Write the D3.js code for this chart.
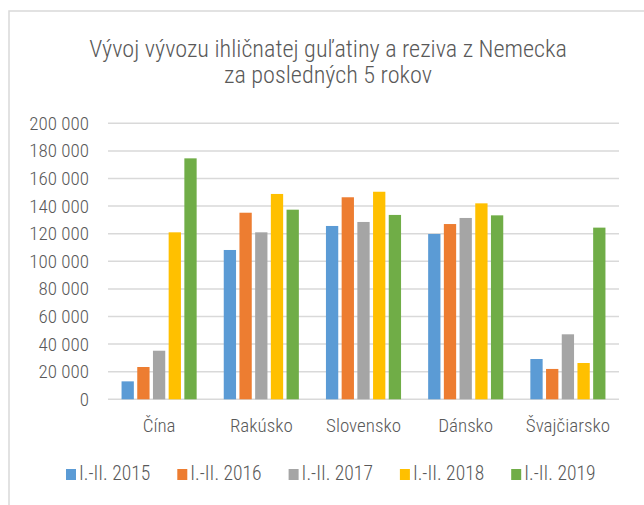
<!DOCTYPE html>
<html><head><meta charset="utf-8"><script src="https://cdn.jsdelivr.net/npm/d3@7"></script>
<style>
  body { margin: 0; background: #fff; }
  text { font-family: 'Roboto Condensed', 'Liberation Sans', sans-serif; font-weight: 300; fill: #595959; }
</style></head>
<body>
<div id="chart"></div>
<script>

// data
var categories = ['Čína', 'Rakúsko', 'Slovensko', 'Dánsko', 'Švajčiarsko'];
var seriesNames = ['I.-II. 2015', 'I.-II. 2016', 'I.-II. 2017', 'I.-II. 2018', 'I.-II. 2019'];
var seriesColors = ['#5B9BD5', '#ED7D31', '#A5A5A5', '#FFC000', '#70AD47'];
var values2015 = [13000, 108200, 125600, 119800, 29200];
var values2016 = [23400, 135200, 146400, 127000, 22000];
var values2017 = [35200, 121000, 128500, 131400, 47100];
var values2018 = [121000, 148800, 150400, 142000, 26300];
var values2019 = [174600, 137400, 133600, 133300, 124400];
var yTicks = [0, 20000, 40000, 60000, 80000, 100000, 120000, 140000, 160000, 180000, 200000];
var titleLines = ['Vývoj vývozu ihličnatej guľatiny a reziva z Nemecka', 'za posledných 5 rokov'];

var allSeries = [values2015, values2016, values2017, values2018, values2019];

var width = 644, height = 505;
var plot = { left: 108, right: 619, top: 123.3, bottom: 399.3 };

var svg = d3.select('#chart')
			.append('svg')
				.attr('width', width)
				.attr('height', height);

// chart frame (right and bottom edges fall outside the picture)
svg.append('rect')
		.attr('x', 9)
		.attr('y', 11)
		.attr('width', 700)
		.attr('height', 600)
		.style('fill', 'none')
		.style('stroke', '#d9d9d9')
		.style('stroke-width', 1.5);

// title
svg.append('text')
		.attr('text-anchor', 'middle')
		.style('font-size', '24.2px')
	.selectAll('tspan')
	.data(titleLines)
	.enter().append('tspan')
		.attr('x', 328)
		.attr('y', function(d, i) { return 57 + i * 26; })
		.text(function(d) { return d; });

var x0 = d3.scaleBand()
			.domain(categories)
			.range([plot.left, plot.right])
			.padding(0);

var x1 = d3.scaleBand()
			.domain(seriesNames)
			.range([0, x0.bandwidth()])
			.paddingInner(0.217)
			.paddingOuter(0.863);

var y = d3.scaleLinear()
			.domain([0, 200000])
			.range([plot.bottom, plot.top]);

var fmt = function(d) { return d3.format(',')(d).replace(/,/g, ' '); };

// gridlines
svg.append('g')
	.selectAll('line')
	.data(yTicks)
	.enter().append('line')
		.attr('x1', plot.left)
		.attr('x2', plot.right)
		.attr('y1', function(d) { return y(d); })
		.attr('y2', function(d) { return y(d); })
		.style('stroke', '#d9d9d9')
		.style('stroke-width', 1.5);

// y axis labels
var yAxis = d3.axisLeft(y)
				.tickValues(yTicks)
				.tickFormat(fmt)
				.tickSize(0)
				.tickPadding(0);

svg.append('g')
		.attr('transform', 'translate(89,0)')
		.call(yAxis)
		.call(function(g) { g.select('.domain').remove(); })
		.selectAll('text')
			.attr('font-family', null)
			.attr('fill', null)
			.style('font-size', '19px');

// bars
var groups = svg.append('g')
	.selectAll('g')
	.data(categories)
	.enter().append('g')
		.attr('transform', function(d) { return 'translate(' + x0(d) + ',0)'; });

groups.selectAll('rect')
	.data(function(c, ci) { return allSeries.map(function(s, si) { return { name: seriesNames[si], value: s[ci], color: seriesColors[si] }; }); })
	.enter().append('rect')
		.attr('x', function(d) { return x1(d.name); })
		.attr('y', function(d) { return y(d.value); })
		.attr('width', x1.bandwidth())
		.attr('height', function(d) { return y(0) - y(d.value); })
		.style('fill', function(d) { return d.color; });

// category labels
var xAxis = d3.axisBottom(x0)
				.tickSize(0)
				.tickPadding(0);

svg.append('g')
		.attr('transform', 'translate(0,' + plot.bottom + ')')
		.call(xAxis)
		.call(function(g) { g.select('.domain').remove(); })
		.selectAll('text')
			.attr('font-family', null)
			.attr('fill', null)
			.attr('dy', null)
			.attr('y', 33)
			.style('font-size', '19px');

// legend
var legend = svg.append('g')
	.selectAll('g')
	.data(seriesNames)
	.enter().append('g')
		.attr('transform', function(d, i) { return 'translate(' + (66 + i * 111.3) + ',0)'; });

legend.append('rect')
		.attr('x', 0)
		.attr('y', 469)
		.attr('width', 10)
		.attr('height', 11)
		.style('fill', function(d, i) { return seriesColors[i]; });

legend.append('text')
		.attr('x', 13)
		.attr('y', 480)
		.style('font-size', '19.6px')
		.text(function(d) { return d; });

</script></body></html>
